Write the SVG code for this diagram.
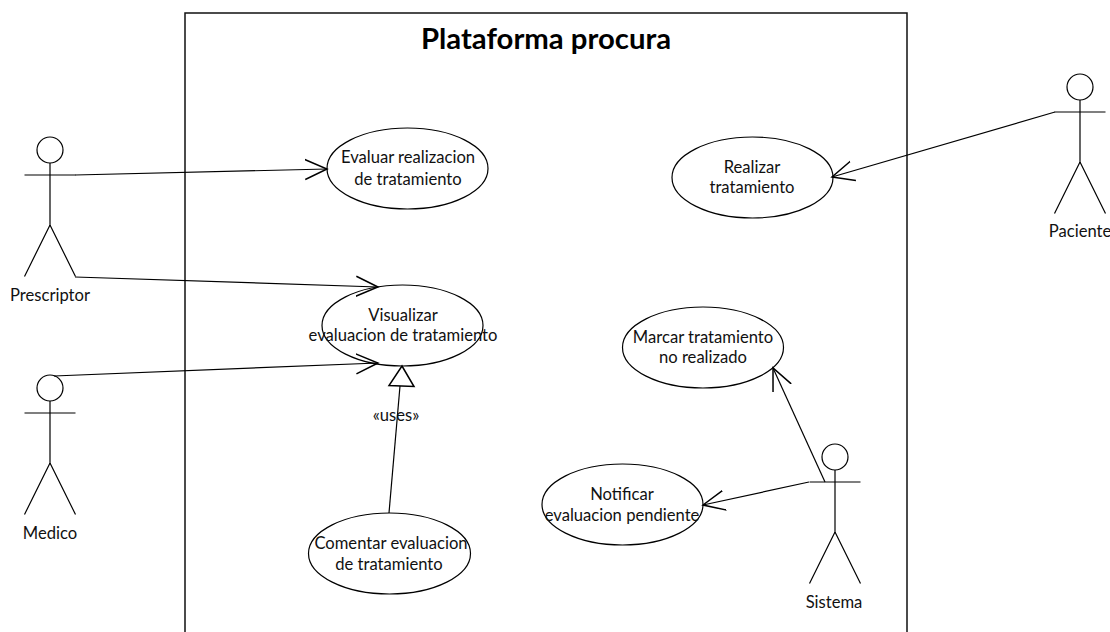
<svg xmlns="http://www.w3.org/2000/svg" width="1110" height="632" viewBox="0 0 1110 632">
<style>
.s{fill:none;stroke:#000;stroke-width:1.2}
.h{fill:none;stroke:#000;stroke-width:1.5}
.f{fill:none;stroke:#111;stroke-width:1.5}
.e{fill:#fff;stroke:#000;stroke-width:1.2}
text{font-family:Lato,"Open Sans","Liberation Sans",sans-serif;font-size:16.6px;fill:#111;text-anchor:middle}
</style>
<defs><marker id="a" markerUnits="userSpaceOnUse" markerWidth="26" markerHeight="26" refX="22" refY="12" orient="auto"><path d="M0 2L22 12L0 22" class="h"/></marker>
<g id="actor"><circle cx="0" cy="0" r="13" class="e"/><path d="M0 13V75M-25.500 25H25.500M0 75L-25.500 126.500M0 75L25.500 126.500" class="s"/></g></defs>
<rect width="1110" height="632" fill="#fff"/>
<path d="M185 632V13H907V632" class="f"/>
<text x="546" y="49" style="font-size:29.300px;font-weight:700;fill:#000">Plataforma procura</text>
<g id="prescriptor"><use href="#actor" x="50" y="150"/><text x="50" y="301">Prescriptor</text></g>
<g id="medico"><use href="#actor" x="50" y="388"/><text x="50" y="539">Medico</text></g>
<g id="paciente"><use href="#actor" x="1080" y="87"/><text x="1080" y="237">Paciente</text></g>
<g id="sistema"><use href="#actor" x="835" y="457"/><text x="834" y="608">Sistema</text></g>
<g id="n1"><ellipse cx="407.500" cy="168.500" rx="80.500" ry="40.500" class="e"/><text x="408" y="163">Evaluar realizacion</text><text x="408" y="185">de tratamiento</text></g>
<g id="n2"><ellipse cx="752.500" cy="177.500" rx="80.500" ry="40.500" class="e"/><text x="752" y="173">Realizar</text><text x="752" y="193">tratamiento</text></g>
<g id="n3"><ellipse cx="402.500" cy="325.500" rx="80.500" ry="40.500" class="e"/><text x="403" y="321">Visualizar</text><text x="403" y="341">evaluacion de tratamiento</text></g>
<g id="n4"><ellipse cx="703" cy="347.500" rx="80.500" ry="40.500" class="e"/><text x="703" y="343">Marcar tratamiento</text><text x="703" y="363">no realizado</text></g>
<g id="n5"><ellipse cx="622.500" cy="504.500" rx="80.500" ry="40.500" class="e"/><text x="622" y="500">Notificar</text><text x="622" y="521">evaluacion pendiente</text></g>
<g id="n6"><ellipse cx="389.500" cy="553.500" rx="81" ry="40.500" class="e"/><text x="391" y="549">Comentar evaluacion</text><text x="389" y="570">de tratamiento</text></g>
<g id="connectors">
<path d="M75 175L327 169" class="s" marker-end="url(#a)"/>
<path d="M75 277L378 287" class="s" marker-end="url(#a)"/>
<path d="M54 376L378 363" class="s" marker-end="url(#a)"/>
<path d="M1055 112L832 177" class="s" marker-end="url(#a)"/>
<path d="M825 482L773 368" class="s" marker-end="url(#a)"/>
<path d="M809 482L703 505" class="s" marker-end="url(#a)"/>
<path d="M389 513L400 386" class="s"/>
<path d="M402 366L389 385.500L414 386.500Z" class="e" style="stroke-width:1.5"/>
<text x="396" y="421">«uses»</text>
</g>
</svg>
